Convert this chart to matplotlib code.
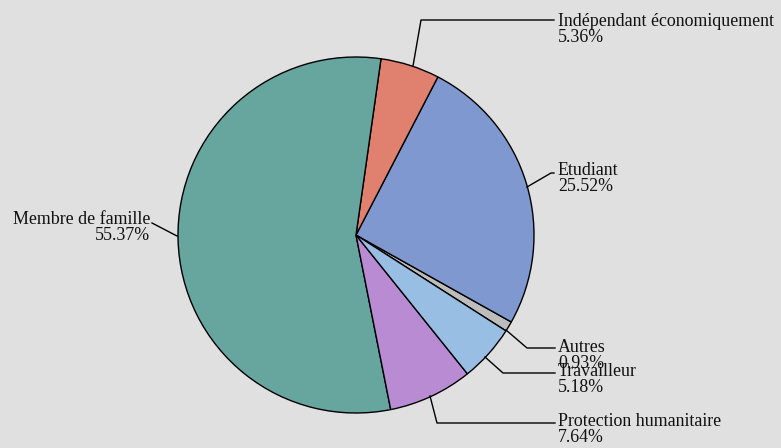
import matplotlib
matplotlib.use("Agg")
import matplotlib.pyplot as plt

# Data (alphabetical order, drawn counter-clockwise)
categories = ["Autres", "Etudiant", "Indépendant économiquement", "Membre de famille",
              "Protection humanitaire", "Travailleur"]
values = [0.93, 25.52, 5.36, 55.37, 7.64, 5.18]
colors = ["#BDBDBD", "#7F99D0", "#E0806F", "#66A69F", "#B98BD3", "#98BEE3"]

# Layout (pixel coordinates, y measured from top)
W, H = 781, 448
center_px = (356, 235)
radius_px = 178
start_angle = -32.6
# leader line: edge point -> elbow -> end of horizontal
leaders = {
    "Autres": [(506, 330), (527, 348), (555, 348)],
    "Etudiant": [(527, 187), (551, 173), (554, 173)],
    "Indépendant économiquement": [(413, 66), (421, 20), (554, 20)],
    "Membre de famille": [(177, 236), (152, 223)],
    "Protection humanitaire": [(430, 396), (437, 423), (555, 423)],
    "Travailleur": [(485, 357), (503, 373), (555, 373)],
}
text_pos = {
    "Autres": (558, 339, "left"),
    "Etudiant": (558, 162, "left"),
    "Indépendant économiquement": (558, 13, "left"),
    "Membre de famille": (150, 211, "right"),
    "Protection humanitaire": (558, 413, "left"),
    "Travailleur": (558, 363, "left"),
}

bg = "#E0E0E0"
fig = plt.figure(figsize=(W / 100, H / 100), dpi=100, facecolor=bg)
ax = fig.add_axes([0, 0, 1, 1])
ax.set_facecolor(bg)

ax.pie(values, colors=colors, startangle=start_angle, counterclock=True,
       center=(center_px[0], H - center_px[1]), radius=radius_px,
       wedgeprops=dict(edgecolor="black", linewidth=1.0), frame=True)
ax.set_xlim(0, W)
ax.set_ylim(0, H)
ax.set_aspect("equal")
ax.axis("off")

font = ["Liberation Serif", "DejaVu Serif"]
for cat, val in zip(categories, values):
    pts = leaders[cat]
    ax.plot([p[0] for p in pts], [H - p[1] for p in pts], color="black", lw=1.0)
    x, y, ha = text_pos[cat]
    ax.text(x, H - y, f"{cat}\n{val:.2f}%", ha=ha, va="top",
            multialignment=ha, fontsize=12.9, family=font, color="#111111",
            linespacing=0.95)

fig.savefig("out.png", dpi=100, facecolor=bg)
